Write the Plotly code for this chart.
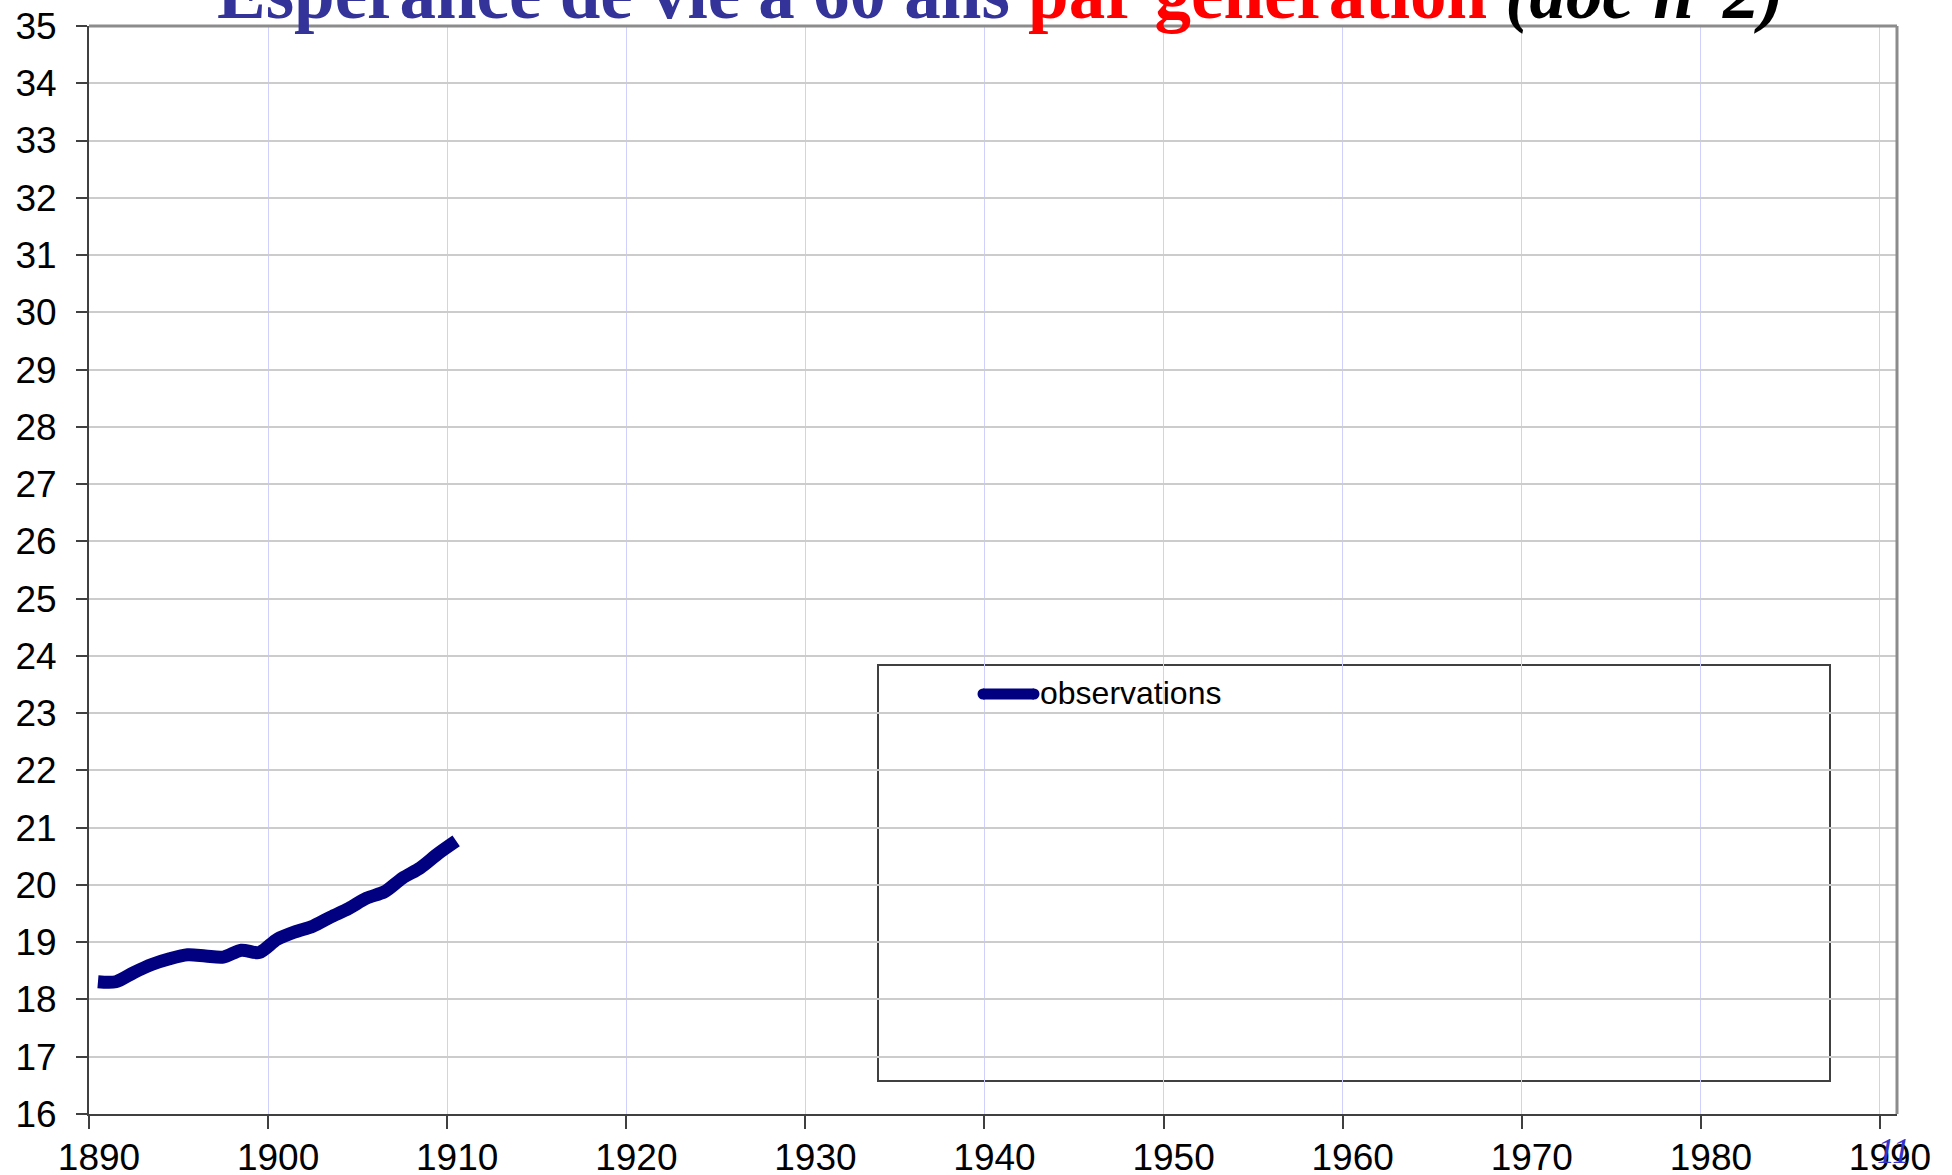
import plotly.graph_objects as go

# Data
years = [1890.5, 1891.5, 1892.5, 1893.5, 1894.5, 1895.5, 1896.5, 1897.5, 1898.5, 1899.5,
         1900.5, 1901.5, 1902.5, 1903.5, 1904.5, 1905.5, 1906.5, 1907.5, 1908.5, 1909.5, 1910.5]
observations = [18.31, 18.31, 18.47, 18.61, 18.71, 18.78, 18.76, 18.74, 18.86, 18.82,
                19.05, 19.18, 19.28, 19.44, 19.59, 19.77, 19.88, 20.12, 20.30, 20.55, 20.77]
x_ticks = [1890, 1900, 1910, 1920, 1930, 1940, 1950, 1960, 1970, 1980, 1990]
y_ticks = list(range(16, 36))
series_name = "observations"

W, H = 1952, 1175
L, R, T, B = 89, 55, 26, 61
PW, PH = W - L - R, H - T - B


def px_x(p):
    return (p - L) / PW


def px_y(p):
    return (H - B - p) / PH


LINE_COLOR = "#000080"

fig = go.Figure()
fig.add_trace(go.Scatter(
    x=years, y=observations, mode="lines", name=series_name,
    line=dict(color=LINE_COLOR, width=13, shape="spline", smoothing=0.8),
    showlegend=False,
))

fig.update_layout(
    width=W, height=H,
    margin=dict(l=L, r=R, t=T, b=B, pad=0, autoexpand=False),
    paper_bgcolor="white", plot_bgcolor="white",
    font=dict(family="Liberation Sans, Arial, sans-serif", color="black"),
    showlegend=False,
    xaxis=dict(
        range=[1890, 1990.95], tickvals=x_ticks, ticktext=[str(v) for v in x_ticks],
        showgrid=True, gridcolor="#d0d0ff", gridwidth=1,
        showline=True, linecolor="#404040", linewidth=2,
        ticks="outside", ticklen=13, tickwidth=2, tickcolor="#404040",
        tickfont=dict(size=37), zeroline=False, ticklabelstandoff=-3,
        ticklabelshift=10, automargin=False,
    ),
    yaxis=dict(
        range=[16, 35], tickvals=y_ticks, ticktext=[str(v) for v in y_ticks],
        showgrid=True, gridcolor="#cccccc", gridwidth=2,
        showline=True, linecolor="#404040", linewidth=2,
        ticks="outside", ticklen=11, tickwidth=2, tickcolor="#404040",
        tickfont=dict(size=37), zeroline=False, ticklabelstandoff=12,
        automargin=False,
    ),
)

# Plot area border (top & right) in grey
fig.add_shape(type="line", xref="paper", yref="paper", x0=0, x1=1, y0=1, y1=1,
              line=dict(color="#8c8c8c", width=3))
fig.add_shape(type="line", xref="paper", yref="paper", x0=1, x1=1, y0=0, y1=1,
              line=dict(color="#8c8c8c", width=3))

# Legend box with its key
fig.add_shape(type="rect", xref="paper", yref="paper",
              x0=px_x(878), x1=px_x(1830), y0=px_y(1081), y1=px_y(665),
              line=dict(color="#404040", width=2), fillcolor="white", layer="below")
fig.add_shape(type="line", xref="paper", yref="paper",
              x0=px_x(983), x1=px_x(1034), y0=px_y(694), y1=px_y(694),
              line=dict(color=LINE_COLOR, width=11))
for cx in (983, 1034):
    fig.add_shape(type="circle", xref="paper", yref="paper",
                  x0=px_x(cx - 5.5), x1=px_x(cx + 5.5), y0=px_y(694 + 5.5), y1=px_y(694 - 5.5),
                  line=dict(width=0), fillcolor=LINE_COLOR)
fig.add_annotation(text=series_name, xref="paper", yref="paper",
                   x=px_x(1038), y=px_y(693), xanchor="left", yanchor="middle",
                   showarrow=False,
                   font=dict(family="Liberation Sans, Arial, sans-serif", size=32, color="black"))

# Title (partially cut at top of page)
title_html = ("<b><span style='color:#333399'>Espérance de vie à 60 ans </span>"
              "<span style='color:#ff0000'>par génération </span>"
              "<i><span style='color:#000000'>(doc n°2)</span></i></b>")
fig.add_annotation(text=title_html, xref="paper", yref="paper",
                   x=px_x(1000), y=1, xanchor="center", yanchor="bottom",
                   yshift=-10, showarrow=False,
                   font=dict(family="Liberation Serif, Times New Roman, serif", size=73))

# Page number
fig.add_annotation(text="<i>11</i>", xref="paper", yref="paper",
                   x=px_x(1893), y=px_y(1151), xanchor="center", yanchor="middle",
                   showarrow=False,
                   font=dict(family="Liberation Serif, Times New Roman, serif", size=36, color="#3333cc"))

fig.write_html("out.html", config={"displayModeBar": False},
               post_script="document.body.style.margin='0';document.body.style.overflow='hidden';")
